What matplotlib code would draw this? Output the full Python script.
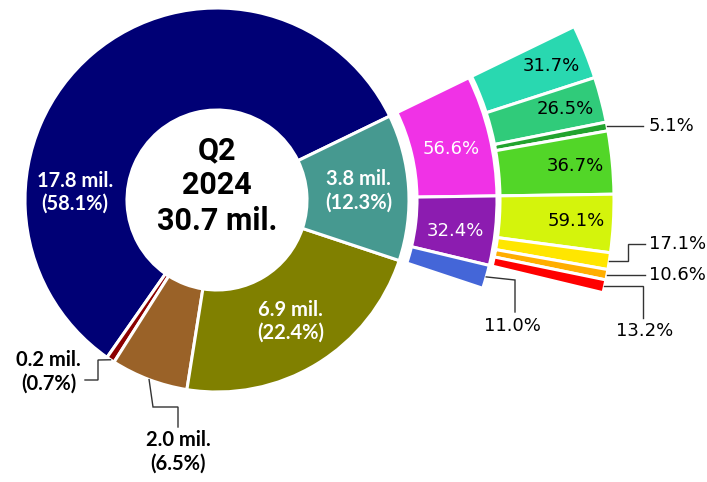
import math

import matplotlib.pyplot as plt

OUTPUT_FILE = "out.png"

# main ring
main_mil = [17.8, 0.2, 2.0, 6.9, 3.8]
main_pct = [58.1, 0.7, 6.5, 22.4, 12.3]
main_colors = ["#000075", "#8b0000", "#9a6228", "#808000", "#469990"]

# breakdown of the 3.8 mil. slice
sub_pct = [56.6, 32.4, 11.0]
sub_colors = ["#f032e6", "#8c1cb0", "#4466d8"]

# breakdown of the 56.6% and 32.4% slices
subsub_a = [31.7, 26.5, 5.1, 36.7]
subsub_b = [59.1, 17.1, 10.6, 13.2]
subsub_a_colors = ["#29d8b0", "#30cb7a", "#22a32e", "#52d628"]
subsub_b_colors = ["#d4f40c", "#ffe600", "#ffae00", "#ff0000"]

quarter = "Q2"
year = "2024"
total_mil = 30.7

H = 482
CX, CY = 217, H - 200
START = 25.9  # angle of the navy / teal boundary
BOLD_FONT = "Lato"
PCT_FONT = "DejaVu Sans"
EDGE = dict(edgecolor="white", linewidth=2.2)


def img(x, y):
    return x, H - y


def polar(r, ang):
    a = math.radians(ang)
    return CX + r * math.cos(a), CY + r * math.sin(a)


fig = plt.figure(figsize=(7.07, 4.82), dpi=100)
ax = fig.add_axes([0, 0, 1, 1])

# main donut, counterclockwise from the navy/teal boundary
main_w, _ = ax.pie(main_pct, colors=main_colors, startangle=START, counterclock=True,
                   radius=192, center=(CX, CY),
                   wedgeprops=dict(width=102, **EDGE))

teal = main_w[4]
teal_top = teal.theta2

# second ring, fractions of the whole
sub_frac = [main_pct[4] / 100 * p / 100 for p in sub_pct]
sub_w, _ = ax.pie(sub_frac, colors=sub_colors, startangle=teal_top, counterclock=False,
                  normalize=False, radius=280, center=(CX, CY),
                  wedgeprops=dict(width=80, **EDGE))

# third ring
ss_frac = [sub_frac[0] * p / 100 for p in subsub_a] + [sub_frac[1] * p / 100 for p in subsub_b]
ss_w, _ = ax.pie(ss_frac, colors=subsub_a_colors + subsub_b_colors, startangle=teal_top,
                 counterclock=False, normalize=False, radius=397, center=(CX, CY),
                 wedgeprops=dict(width=114, **EDGE))


def mid(w):
    return (w.theta1 + w.theta2) / 2


# labels inside the main ring
label_angle = {0: 177}
for i in [0, 3, 4]:
    ang = label_angle.get(i, mid(main_w[i]))
    x, y = polar(142, ang)
    ax.text(x, y, f"{main_mil[i]:.1f} mil.\n({main_pct[i]:.1f}%)", color="white",
            ha="center", va="center", fontsize=14.5, fontweight="bold", family=BOLD_FONT,
            linespacing=1.2)

# labels inside the second ring
for i in [0, 1]:
    x, y = polar(240, mid(sub_w[i]) - 1.2)
    ax.text(x, y, f"{sub_pct[i]:.1f}%", color="white", ha="center", va="center",
            fontsize=13, family=PCT_FONT)

# labels inside the third ring
ss_pct = subsub_a + subsub_b
for i in [0, 1, 3, 4]:
    x, y = polar(360, mid(ss_w[i]))
    ax.text(x, y, f"{ss_pct[i]:.1f}%", color="black", ha="center", va="center",
            fontsize=13, family=PCT_FONT)


def callout(start, points, text_xy, text, family=PCT_FONT, **kw):
    xs = [start[0]] + [img(*p)[0] for p in points]
    ys = [start[1]] + [img(*p)[1] for p in points]
    ax.plot(xs, ys, color="#333333", lw=1.0, solid_joinstyle="miter")
    tx, ty = img(*text_xy)
    ax.text(tx, ty, text, family=family, color="black", **kw)


# outside labels with elbow connectors
callout(polar(192, mid(main_w[1])), [(98, 360), (98, 380), (85, 380)], (81, 372),
        f"{main_mil[1]:.1f} mil.\n({main_pct[1]:.1f}%)", family=BOLD_FONT,
        ha="right", va="center", multialignment="center",
        fontsize=14.5, fontweight="bold", linespacing=1.2)
callout(polar(192, mid(main_w[2])), [(153, 407), (178, 407), (178, 427)], (178, 430),
        f"{main_mil[2]:.1f} mil.\n({main_pct[2]:.1f}%)", family=BOLD_FONT,
        ha="center", va="top", fontsize=14.5, fontweight="bold", linespacing=1.2)

callout(polar(280, mid(sub_w[2])), [(515, 280), (515, 312)], (512, 326),
        f"{sub_pct[2]:.1f}%", ha="center", va="center", fontsize=13)
p = polar(397, mid(ss_w[2]))
callout(p, [(643, H - p[1])], (649, H - p[1]),
        f"{ss_pct[2]:.1f}%", ha="left", va="center", fontsize=13)
p = polar(397, mid(ss_w[5]))
callout(p, [(628, H - p[1]), (628, 244), (645, 244)], (649, 244),
        f"{ss_pct[5]:.1f}%", ha="left", va="center", fontsize=13)
p = polar(397, mid(ss_w[6]))
callout(p, [(645, H - p[1])], (649, H - p[1]),
        f"{ss_pct[6]:.1f}%", ha="left", va="center", fontsize=13)
p = polar(397, mid(ss_w[7]))
callout(p, [(643, H - p[1]), (643, 318)], (645, 331),
        f"{ss_pct[7]:.1f}%", ha="center", va="center", fontsize=13)

# centre text
for txt, y in [(quarter, 150), (year, 185), (f"{total_mil:.1f} mil.", 221)]:
    x, yy = img(CX, y)
    ax.text(x, yy, txt, ha="center", va="center", fontsize=22, fontweight="bold",
            family="Roboto", color="black")

ax.set_xlim(0, 707)
ax.set_ylim(0, H)
ax.set_aspect("equal")
ax.axis("off")

fig.savefig(OUTPUT_FILE, dpi=100)
print(f"Plot saved to {OUTPUT_FILE}")
